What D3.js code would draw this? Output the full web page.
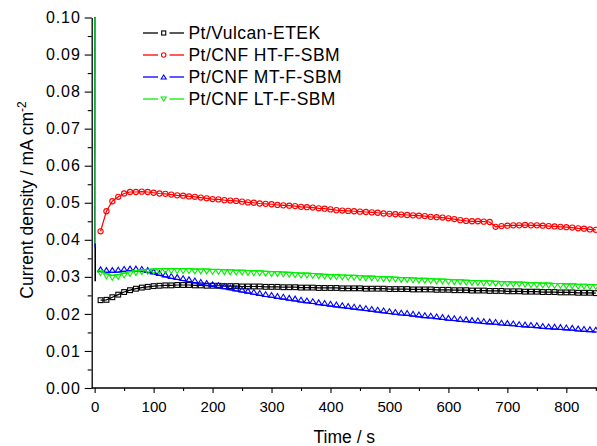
<!DOCTYPE html>
<html>
<head>
<meta charset="utf-8">
<script src="https://cdn.jsdelivr.net/npm/d3@7"></script>
<style>
  body { margin: 0; background: #fff; }
  svg { display: block; font-family: "Liberation Sans", Arial, sans-serif; }
</style>
</head>
<body>
<svg id="chart" width="597" height="446"></svg>
<script>
// Chronoamperometry: current density vs time for four catalysts

// sampling instants of the plotted markers (s)
const time = [10,20,30,40,50,60,70,80,90,100,110,120,130,140,150,160,170,180,190,200,
  210,220,230,240,250,260,270,280,290,300,310,320,330,340,350,360,370,380,390,400,
  410,420,430,440,450,460,470,480,490,500,510,520,530,540,550,560,570,580,590,600,
  610,620,630,640,650,660,670,680,690,700,710,720,730,740,750,760,770,780,790,800,
  810,820,830,840,850];

// initial transient right after the potential step (s)
const spikeTime = [0, 1];

const seriesNames = ["Pt/Vulcan-ETEK", "Pt/CNF HT-F-SBM", "Pt/CNF MT-F-SBM", "Pt/CNF LT-F-SBM"];

const vulcanSpike = [0.25, 0.0288];
const vulcan = [0.0237,0.0238,0.0245,0.0252,0.0259,0.0264,0.0268,0.0271,0.0273,0.0275,
  0.0276,0.0277,0.0277,0.0278,0.0278,0.0278,0.0277,0.0277,0.0276,0.0276,
  0.0276,0.0275,0.0275,0.0275,0.0274,0.0274,0.0274,0.0274,0.0273,0.0273,
  0.0273,0.0272,0.0272,0.0272,0.0271,0.0271,0.0271,0.0270,0.0270,0.0270,
  0.0270,0.0269,0.0269,0.0269,0.0269,0.0268,0.0268,0.0268,0.0268,0.0267,
  0.0267,0.0267,0.0267,0.0266,0.0266,0.0266,0.0266,0.0265,0.0265,0.0265,
  0.0264,0.0264,0.0264,0.0263,0.0263,0.0263,0.0262,0.0262,0.0262,0.0261,
  0.0261,0.0261,0.0260,0.0260,0.0260,0.0259,0.0259,0.0259,0.0258,0.0258,
  0.0258,0.0257,0.0257,0.0257,0.0256];

const cnfHTSpike = [0.25, 0.0393];
const cnfHT = [0.0423,0.0477,0.0504,0.0516,0.0525,0.0529,0.0529,0.0530,0.0529,0.0527,
  0.0525,0.0524,0.0522,0.0520,0.0519,0.0517,0.0516,0.0514,0.0512,0.0510,
  0.0509,0.0507,0.0506,0.0505,0.0503,0.0501,0.0500,0.0498,0.0497,0.0496,
  0.0494,0.0493,0.0492,0.0491,0.0489,0.0488,0.0487,0.0485,0.0484,0.0482,
  0.0480,0.0479,0.0478,0.0477,0.0476,0.0475,0.0474,0.0473,0.0471,0.0470,
  0.0469,0.0468,0.0467,0.0466,0.0465,0.0464,0.0462,0.0461,0.0460,0.0458,
  0.0456,0.0453,0.0451,0.0450,0.0450,0.0449,0.0448,0.0435,0.0437,0.0438,
  0.0439,0.0439,0.0440,0.0439,0.0439,0.0438,0.0437,0.0436,0.0435,0.0434,
  0.0433,0.0431,0.0430,0.0428,0.0427];

const cnfMTSpike = [0.25, 0.0379];
const cnfMT = [0.0314,0.0312,0.0312,0.0313,0.0315,0.0316,0.0316,0.0315,0.0312,0.0308,
  0.0304,0.0300,0.0296,0.0293,0.0290,0.0287,0.0284,0.0280,0.0277,0.0274,
  0.0271,0.0268,0.0265,0.0262,0.0259,0.0256,0.0253,0.0250,0.0247,0.0245,
  0.0242,0.0240,0.0237,0.0235,0.0232,0.0230,0.0228,0.0225,0.0223,0.0221,
  0.0219,0.0217,0.0215,0.0213,0.0211,0.0209,0.0207,0.0205,0.0203,0.0201,
  0.0199,0.0197,0.0196,0.0194,0.0192,0.0190,0.0189,0.0187,0.0185,0.0183,
  0.0182,0.0180,0.0179,0.0177,0.0176,0.0174,0.0173,0.0172,0.0170,0.0169,
  0.0168,0.0166,0.0165,0.0164,0.0163,0.0161,0.0160,0.0159,0.0158,0.0157,
  0.0156,0.0154,0.0153,0.0152,0.0151];

const cnfLTSpike = [0.25, 0.0390];
const cnfLT = [0.0316,0.0308,0.0304,0.0306,0.0310,0.0314,0.0317,0.0319,0.0320,0.0321,
  0.0322,0.0322,0.0322,0.0322,0.0322,0.0322,0.0321,0.0321,0.0321,0.0320,
  0.0320,0.0319,0.0319,0.0318,0.0318,0.0317,0.0316,0.0316,0.0315,0.0314,
  0.0314,0.0313,0.0312,0.0311,0.0310,0.0310,0.0309,0.0308,0.0307,0.0306,
  0.0306,0.0305,0.0304,0.0304,0.0303,0.0302,0.0302,0.0301,0.0300,0.0300,
  0.0299,0.0298,0.0298,0.0297,0.0296,0.0296,0.0295,0.0294,0.0294,0.0293,
  0.0292,0.0292,0.0291,0.0290,0.0290,0.0289,0.0289,0.0288,0.0287,0.0287,
  0.0286,0.0286,0.0285,0.0284,0.0284,0.0283,0.0283,0.0282,0.0282,0.0281,
  0.0281,0.0280,0.0280,0.0279,0.0279];

const xTicks = [0,100,200,300,400,500,600,700,800];
const xMinorTicks = [50,150,250,350,450,550,650,750,850];
const yTicks = [0,0.01,0.02,0.03,0.04,0.05,0.06,0.07,0.08,0.09,0.10];
const yMinorTicks = [0.005,0.015,0.025,0.035,0.045,0.055,0.065,0.075,0.085,0.095];

const series = [
  { name: seriesNames[0], color: "#000000", marker: "square",  spike: vulcanSpike, values: vulcan },
  { name: seriesNames[1], color: "#ff0000", marker: "circle",  spike: cnfHTSpike,  values: cnfHT },
  { name: seriesNames[2], color: "#0000ff", marker: "triUp",   spike: cnfMTSpike,  values: cnfMT },
  { name: seriesNames[3], color: "#00f000", marker: "triDown", spike: cnfLTSpike,  values: cnfLT }
];

const svg = d3.select("#chart");
const plotLeft = 91.7, plotRight = 597, plotTop = 17.5, plotBottom = 388;

const x = d3.scaleLinear().domain([-5, 852]).range([plotLeft, plotRight]);
const y = d3.scaleLinear().domain([0, 0.10]).range([plotBottom, plotTop]);

// clip region for the traces
svg.append("defs").append("clipPath").attr("id", "plotClip")
  .append("rect").attr("x", plotLeft).attr("y", plotTop)
  .attr("width", plotRight - plotLeft).attr("height", plotBottom - plotTop);

// axes
const xAxis = svg.append("g").attr("transform", `translate(0,${plotBottom})`)
  .call(d3.axisBottom(x).tickValues(xTicks).tickSize(5).tickPadding(4).tickSizeOuter(0).tickFormat(d3.format("d")));
svg.append("g").attr("transform", `translate(0,${plotBottom})`)
  .call(d3.axisBottom(x).tickValues(xMinorTicks).tickSize(3).tickSizeOuter(0).tickFormat(""))
  .select(".domain").remove();
const yAxis = svg.append("g").attr("transform", `translate(${plotLeft},0)`)
  .call(d3.axisLeft(y).tickValues(yTicks).tickSize(7).tickPadding(4).tickSizeOuter(0).tickFormat(d3.format(".2f")));
svg.append("g").attr("transform", `translate(${plotLeft},0)`)
  .call(d3.axisLeft(y).tickValues(yMinorTicks).tickSize(4).tickSizeOuter(0).tickFormat(""))
  .select(".domain").remove();

svg.selectAll(".domain").attr("stroke", "#000").attr("stroke-width", 1.3);
svg.selectAll(".tick line").attr("stroke", "#000").attr("stroke-width", 1.1);
xAxis.selectAll("text").attr("font-size", 15).attr("fill", "#000")
  .attr("font-family", "Liberation Sans, Arial, sans-serif").attr("dy", "1.0em");
yAxis.selectAll("text").attr("font-size", 16).attr("fill", "#000")
  .attr("letter-spacing", "0.9px")
  .attr("font-family", "Liberation Sans, Arial, sans-serif");
// x axis line spans the whole plot width
xAxis.select(".domain").attr("d", `M${plotLeft},0H${plotRight}`);

// axis titles
svg.append("text")
  .attr("x", (plotLeft + plotRight) / 2).attr("y", 443)
  .attr("text-anchor", "middle").attr("font-size", 17.5).attr("fill", "#000")
  .text("Time / s");

const yTitle = svg.append("text")
  .attr("transform", "translate(33,200) rotate(-90)")
  .attr("text-anchor", "middle").attr("font-size", 17.5).attr("fill", "#000");
yTitle.append("tspan").text("Current density / mA cm");
yTitle.append("tspan").attr("dy", -7).attr("font-size", 12).text("-2");

// marker shapes (triangles sit with their base on the data point)
function markerPath(type) {
  if (type === "triUp") return "M-3,0L3,0L0,-4.8Z";
  return "M-3,0L3,0L0,4.8Z";
}
function drawMarker(g, type, cx, cy, color, k) {
  if (type === "square") {
    const s = 4.8 * k;
    g.append("rect").attr("x", cx - s / 2).attr("y", cy - s / 2).attr("width", s).attr("height", s)
      .attr("fill", "none").attr("stroke", color).attr("stroke-width", 1.1);
  } else if (type === "circle") {
    g.append("circle").attr("cx", cx).attr("cy", cy).attr("r", 2.6 * k)
      .attr("fill", "none").attr("stroke", color).attr("stroke-width", 1.1);
  } else {
    g.append("path").attr("d", markerPath(type))
      .attr("transform", `translate(${cx},${cy}) scale(${k})`)
      .attr("fill", "none").attr("stroke", color).attr("stroke-width", 1.1 / k);
  }
}

const line = d3.line().x(d => x(d[0])).y(d => y(d[1]));
const plot = svg.append("g").attr("clip-path", "url(#plotClip)");

series.forEach(s => {
  // steep initial decay
  plot.append("path").datum(spikeTime.map((t, i) => [t, s.spike[i]])).attr("d", line)
    .attr("fill", "none").attr("stroke", s.color).attr("stroke-width", 1.6);
  // slow decay with markers
  plot.append("path").datum(time.map((t, i) => [t, s.values[i]])).attr("d", line)
    .attr("fill", "none").attr("stroke", s.color).attr("stroke-width", 1.2);
  const mg = plot.append("g");
  time.forEach((t, i) => drawMarker(mg, s.marker, x(t), y(s.values[i]), s.color, 1));
});

// legend
const legend = svg.append("g");
series.forEach((s, i) => {
  const ly = 33 + i * 22;
  legend.append("line").attr("x1", 143).attr("x2", 158).attr("y1", ly).attr("y2", ly)
    .attr("stroke", s.color).attr("stroke-width", 1.3);
  legend.append("line").attr("x1", 169.5).attr("x2", 184).attr("y1", ly).attr("y2", ly)
    .attr("stroke", s.color).attr("stroke-width", 1.3);
  const my = s.marker === "triUp" ? ly + 2 : s.marker === "triDown" ? ly - 2 : ly;
  drawMarker(legend, s.marker, 163.7, my, s.color, 0.85);
  legend.append("text").attr("x", 188.5).attr("y", ly).attr("dy", "0.36em")
    .attr("font-size", 17.5).attr("letter-spacing", "0.45px").attr("fill", "#000").text(s.name);
});
</script>
</body>
</html>
